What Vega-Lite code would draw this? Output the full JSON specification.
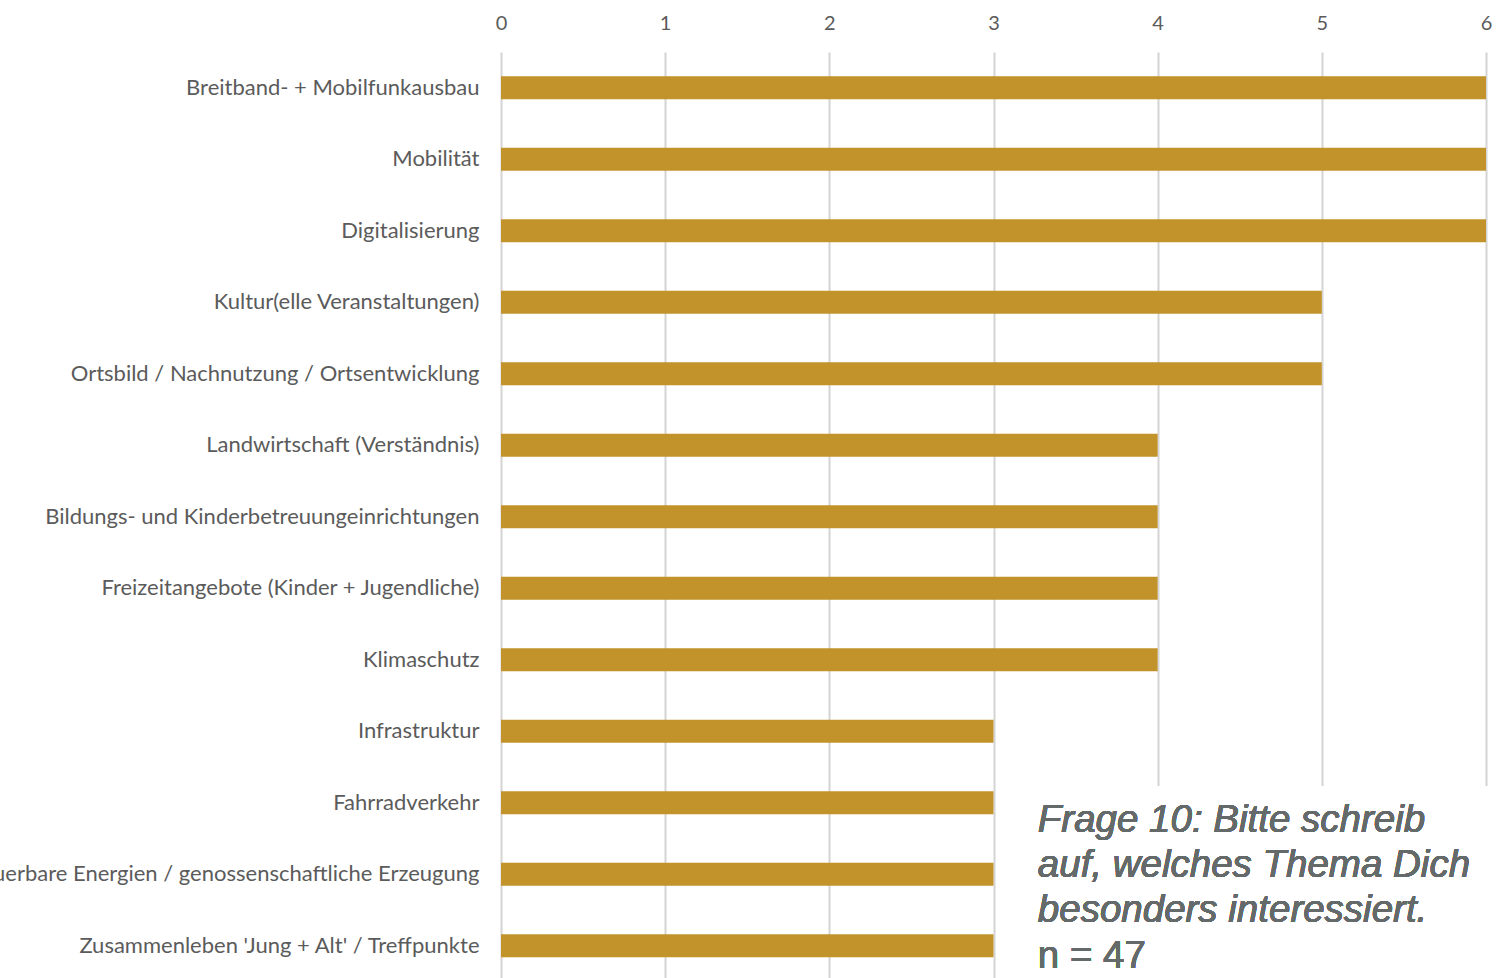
{
  "$schema": "https://vega.github.io/schema/vega-lite/v6.json",
  "autosize": {"type": "none"},
  "width": 985,
  "height": 929.5,
  "padding": {"left": 501, "top": 52, "right": 20, "bottom": 0},
  "background": "white",
  "config": {"view": {"stroke": null}},
  "data": {
    "values": [
      {"thema": "Breitband- + Mobilfunkausbau", "anzahl": 6},
      {"thema": "Mobilität", "anzahl": 6},
      {"thema": "Digitalisierung", "anzahl": 6},
      {"thema": "Kultur(elle Veranstaltungen)", "anzahl": 5},
      {"thema": "Ortsbild / Nachnutzung / Ortsentwicklung", "anzahl": 5},
      {"thema": "Landwirtschaft (Verständnis)", "anzahl": 4},
      {"thema": "Bildungs- und Kinderbetreuungeinrichtungen", "anzahl": 4},
      {"thema": "Freizeitangebote (Kinder + Jugendliche)", "anzahl": 4},
      {"thema": "Klimaschutz", "anzahl": 4},
      {"thema": "Infrastruktur", "anzahl": 3},
      {"thema": "Fahrradverkehr", "anzahl": 3},
      {"thema": "Erneuerbare Energien / genossenschaftliche Erzeugung", "anzahl": 3},
      {"thema": "Zusammenleben 'Jung + Alt' / Treffpunkte", "anzahl": 3}
    ]
  },
  "layer": [
    {
      "mark": {"type": "bar", "color": "#C2932A", "size": 23},
      "encoding": {
        "y": {
          "field": "thema", "type": "nominal", "sort": null,
          "scale": {"paddingInner": 0, "paddingOuter": 0},
          "axis": {
            "title": null, "domain": false, "ticks": false, "grid": false,
            "labelFont": "Lato", "labelFontSize": 22, "labelColor": "#5b5b5b",
            "labelPadding": 22, "labelLimit": 2000
          }
        },
        "x": {
          "field": "anzahl", "type": "quantitative",
          "scale": {"domain": [0, 6], "nice": false},
          "axis": {
            "orient": "top", "title": null, "domain": false, "ticks": false,
            "values": [0, 1, 2, 3, 4, 5, 6], "format": "d",
            "grid": true, "gridColor": "#d4d4d4", "gridWidth": 2,
            "labelFont": "Lato", "labelFontSize": 20, "labelColor": "#5b5b5b",
            "labelPadding": 19, "labelFlush": false
          }
        }
      }
    },
    {
      "mark": {"type": "rect", "color": "white"},
      "encoding": {
        "x": {"datum": 3.2},
        "x2": {"datum": 6.2},
        "y": {"datum": "Fahrradverkehr", "bandPosition": 0.27},
        "y2": {"datum": "Zusammenleben 'Jung + Alt' / Treffpunkte", "bandPosition": 1}
      }
    },
    {
      "mark": {
        "type": "text", "align": "left", "baseline": "alphabetic",
        "font": "Liberation Sans", "fontStyle": "italic", "fontSize": 38.5,
        "lineHeight": 45, "color": "#646a6a", "dy": 29
      },
      "encoding": {
        "x": {"datum": 3.27},
        "y": {"datum": "Fahrradverkehr"},
        "text": {"value": ["Frage 10: Bitte schreib", "auf, welches Thema Dich", "besonders interessiert."]}
      }
    },
    {
      "mark": {
        "type": "text", "align": "left", "baseline": "alphabetic",
        "font": "Liberation Sans", "fontSize": 38.5, "color": "#646a6a", "dy": 22
      },
      "encoding": {
        "x": {"datum": 3.27},
        "y": {"datum": "Zusammenleben 'Jung + Alt' / Treffpunkte"},
        "text": {"value": "n = 47"}
      }
    }
  ]
}
